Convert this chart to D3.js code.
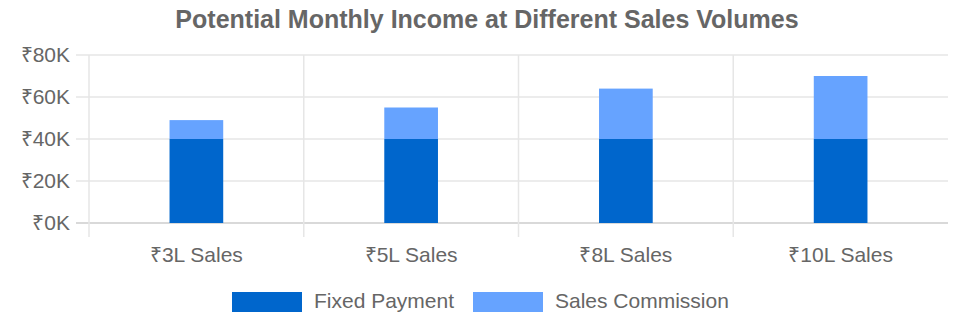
<!DOCTYPE html>
<html>
<head>
  <meta charset="UTF-8">
  <title>Potential Monthly Income</title>
  <style>
    body { margin: 0; background: #fff; }
    text { font-family: "Liberation Sans", Arial, sans-serif; fill: #666; }
  </style>
</head>
<body>
  <div id="chart"></div>
  <script src="https://d3js.org/d3.v7.min.js"></script>
  <script>
    // data
    var categories = ["₹3L Sales", "₹5L Sales", "₹8L Sales", "₹10L Sales"];
    var fixedPayment = [40000, 40000, 40000, 40000];
    var salesCommission = [9000, 15000, 24000, 30000];
    var seriesNames = ["Fixed Payment", "Sales Commission"];
    var yTicks = [0, 20000, 40000, 60000, 80000];

    var colors = ["#0066cc", "#66a3ff"];
    var width = 968, height = 331;
    var margin = {top: 55, right: 20, bottom: 108, left: 89};

    var svg = d3.select("#chart").append("svg")
      .attr("width", width)
      .attr("height", height);

    var rows = categories.map(function(c, i) {
      return {cat: c, fixed: fixedPayment[i], commission: salesCommission[i]};
    });
    var stacked = d3.stack().keys(["fixed", "commission"])(rows);

    var x = d3.scaleBand()
      .domain(categories)
      .range([margin.left, width - margin.right])
      .paddingInner(0.75).paddingOuter(0.375);
    // full band (no padding) for grid lines
    var xb = d3.scaleBand().domain(categories).range([margin.left, width - margin.right]);
    var y = d3.scaleLinear().domain([0, 80000]).range([height - margin.bottom, margin.top]);

    // title
    svg.append("text")
      .attr("x", 487)
      .attr("y", 28)
      .attr("text-anchor", "middle")
      .style("font-size", "25px")
      .style("font-weight", "bold")
      .text("Potential Monthly Income at Different Sales Volumes");

    // horizontal grid
    svg.append("g")
      .selectAll("line")
      .data(yTicks)
      .join("line")
        .attr("x1", margin.left - 13)
        .attr("x2", width - margin.right)
        .attr("y1", function(d) { return y(d); })
        .attr("y2", function(d) { return y(d); })
        .attr("stroke", function(d) { return d === 0 ? "#ccc" : "#e6e6e6"; })
        .attr("stroke-width", 1.5);

    // vertical grid at band starts
    svg.append("g")
      .selectAll("line")
      .data(categories)
      .join("line")
        .attr("x1", function(d) { return xb(d); })
        .attr("x2", function(d) { return xb(d); })
        .attr("y1", margin.top)
        .attr("y2", y(0) + 14)
        .attr("stroke", "#e6e6e6")
        .attr("stroke-width", 1.5);

    // y axis labels
    svg.append("g")
      .selectAll("text")
      .data(yTicks)
      .join("text")
        .attr("x", 70)
        .attr("y", function(d) { return y(d) + 6.5; })
        .attr("text-anchor", "end")
        .style("font-size", "21px")
        .text(function(d) { return "₹" + d3.format("d")(d / 1000) + "K"; });

    // bars
    svg.append("g")
      .selectAll("g")
      .data(stacked)
      .join("g")
        .attr("fill", function(d, i) { return colors[i]; })
      .selectAll("rect")
      .data(function(d) { return d; })
      .join("rect")
        .attr("x", function(d) { return x(d.data.cat); })
        .attr("width", x.bandwidth())
        .attr("y", function(d) { return y(d[1]); })
        .attr("height", function(d) { return y(d[0]) - y(d[1]); });

    // x labels
    svg.append("g")
      .selectAll("text")
      .data(categories)
      .join("text")
        .attr("x", function(d) { return x(d) + x.bandwidth() / 2; })
        .attr("y", 262)
        .attr("text-anchor", "middle")
        .style("font-size", "21px")
        .text(function(d) { return d; });

    // legend
    var legendX = [232, 473];
    var legend = svg.append("g")
      .selectAll("g")
      .data(seriesNames)
      .join("g")
        .attr("transform", function(d, i) { return "translate(" + legendX[i] + ",292)"; });
    legend.append("rect")
      .attr("width", 70)
      .attr("height", 20)
      .attr("fill", function(d, i) { return colors[i]; });
    legend.append("text")
      .attr("x", 82)
      .attr("y", 16)
      .style("font-size", "21px")
      .text(function(d) { return d; });
  </script>
</body>
</html>
